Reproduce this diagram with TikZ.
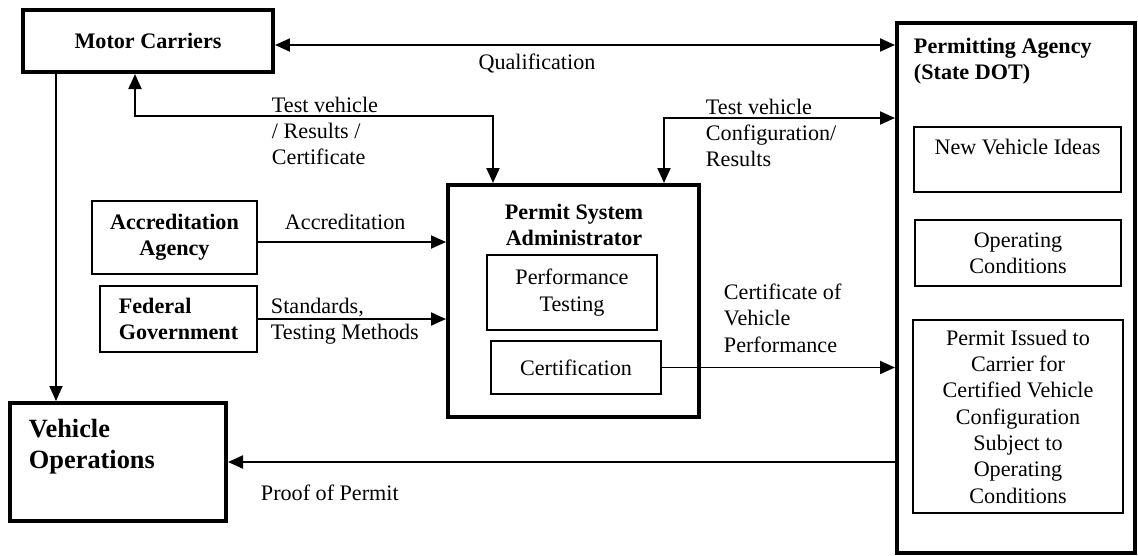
\documentclass[tikz,border=0pt]{standalone}
\usepackage{fontspec}
\setmainfont{Liberation Serif}
\usetikzlibrary{arrows.meta}

\tikzstyle{re1}=[rectangle,draw,line width=2.3pt,align=center,inner sep=2pt,font=\fontsize{12.6}{15}\selectfont\bfseries]
\tikzstyle{re2}=[rectangle,draw,line width=1.1pt,align=center,inner sep=2pt,font=\fontsize{12.6}{15}\selectfont]
\tikzstyle{re3}=[rectangle,align=left,inner sep=0pt,font=\fontsize{12.6}{15}\selectfont]

\begin{document}
\begin{tikzpicture}[x=0.02cm,y=-0.02cm,>={Triangle[length=0.3cm,width=0.26cm]},line width=1.1pt]
\useasboundingbox (0,0) rectangle (1138,555);

%Carriers and operations
\node [re1,minimum width=5cm,minimum height=1.24cm] at (148,41) (mc) {Motor Carriers};
\node [re1,minimum width=4.32cm,minimum height=2.36cm] at (118,462) (vo) {};
\node [re3,anchor=west,font=\fontsize{15}{17.6}\selectfont\bfseries] at (28,447) (vot) {Vehicle\\Operations};

%Agency and government
\node [re2,minimum width=3.3cm,minimum height=1.46cm,font=\fontsize{12.6}{15}\selectfont\bfseries] at (174.5,237.5) (aa) {Accreditation\\Agency};
\node [re2,minimum width=3.14cm,minimum height=1.32cm,align=left,font=\fontsize{12.6}{15}\selectfont\bfseries] at (178.5,319) (fg) {Federal\\Government};

%Permit system administrator
\node [re1,minimum width=5.02cm,minimum height=4.64cm] at (573.5,301) (psa) {};
\node [re3,align=center,font=\fontsize{12.6}{15}\selectfont\bfseries] at (574,225) (psat) {Permit System\\Administrator};
\node [re2,minimum width=3.4cm,minimum height=1.5cm] at (572,292.5) (pt) {Performance\\Testing};
\node [re2,minimum width=3.4cm,minimum height=1.06cm] at (576,367.5) (cert) {Certification};

%Permitting agency
\node [re1,minimum width=4.76cm,minimum height=10.6cm] at (1016,288) (pa) {};
\node [re3,anchor=west,font=\fontsize{12.6}{15}\selectfont\bfseries] at (913,61) (pat) {Permitting Agency\\(State DOT)};
\node [re2,minimum width=4.14cm,minimum height=1.3cm] at (1017.5,159.5) (nvi) {New Vehicle Ideas\\\mbox{}};
\node [re2,minimum width=4.12cm,minimum height=1.32cm] at (1018,253) (oc) {Operating\\Conditions};
\node [re2,minimum width=4.2cm,minimum height=3.86cm] at (1018,416.5) (pi) {Permit Issued to\\Carrier for\\Certified Vehicle\\Configuration\\Subject to\\Operating\\Conditions};

%Connectors
\coordinate (tl) at (493,116);
\coordinate (tr) at (664,118);

\draw [<->] ([yshift=-0.08cm]mc.east) -- ([yshift=-0.08cm]mc.east -| pa.west);
\draw [<->] ([xshift=-0.26cm]mc.south) |- (tl) -- (tl |- psa.north);
\draw [<->] (tr |- psa.north) -- (tr) -- (tr -| pa.west);
\draw [->] ([xshift=0.7cm]mc.south west) -- ([xshift=0.7cm]mc.south west |- vo.north);
\draw [->] ([yshift=-0.09cm]aa.east) -- ([yshift=-0.09cm]aa.east -| psa.west);
\draw [->] (fg.east) -- (fg.east -| psa.west);
\draw [->] (cert.east) -- (cert.east -| pa.west);
\draw [->] (vo.east -| pa.west) -- (vo.east);

%Labels
\node [re3] at (537,63) (qu) {Qualification};
\node [re3,anchor=west] at (271,131) (tvl) {Test vehicle\\/ Results /\\Certificate};
\node [re3,anchor=west] at (705,133) (tvr) {Test vehicle\\Configuration/\\Results};
\node [re3,anchor=west] at (284,222) (acl) {Accreditation};
\node [re3,anchor=west] at (270,321) (stl) {Standards,\\Testing Methods};
\node [re3,anchor=west] at (723,318) (cvp) {Certificate of\\Vehicle\\Performance};
\node [re3,anchor=west] at (260,493) (pp) {Proof of Permit};

\end{tikzpicture}
\end{document}
